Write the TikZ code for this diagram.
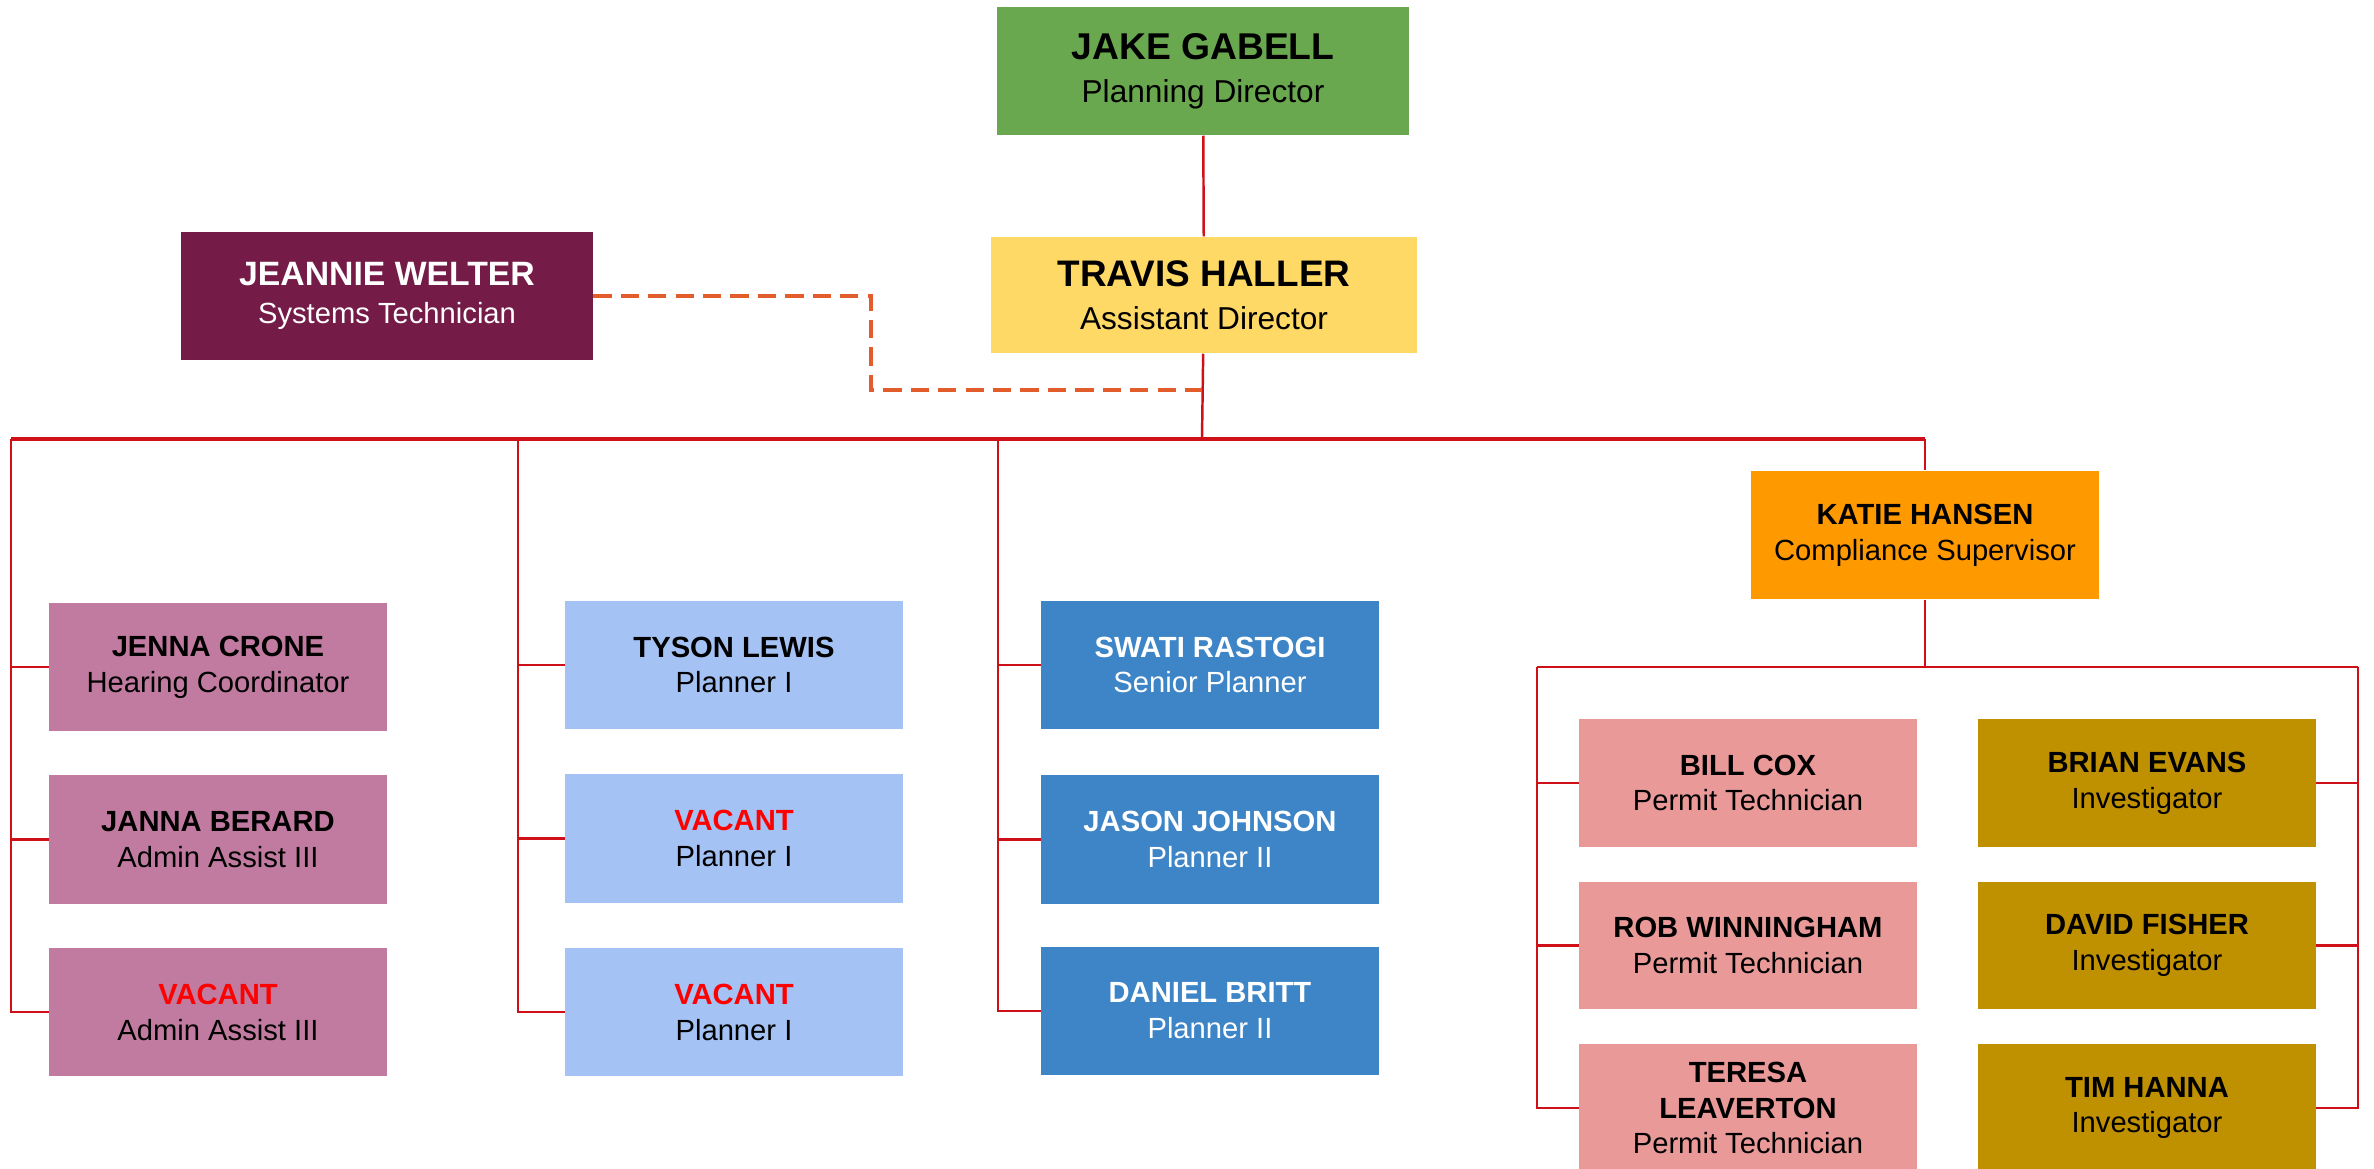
\documentclass[tikz,border=0pt]{standalone}
\usepackage{fontspec}
\setmainfont{Liberation Sans}
\usepackage{xcolor}
\usetikzlibrary{positioning}
\definecolor{dirgreen}{RGB}{106,168,79}
\definecolor{asstyellow}{RGB}{255,217,102}
\definecolor{sysmaroon}{RGB}{116,27,71}
\definecolor{adminpink}{RGB}{194,123,160}
\definecolor{plannerblue}{RGB}{164,194,244}
\definecolor{seniorblue}{RGB}{61,133,198}
\definecolor{complorange}{RGB}{255,153,0}
\definecolor{permitpink}{RGB}{234,153,153}
\definecolor{investgold}{RGB}{191,144,0}
\definecolor{wirered}{RGB}{208,16,24}
\definecolor{linkorange}{RGB}{226,92,44}
\tikzset{
  card/.style={rectangle, inner sep=0pt, align=center, text centered,
    minimum width=33.7mm, minimum height=12.8mm, font=\fontsize{8.3}{10.2}\selectfont},
  topcard/.style={card, minimum width=41.2mm, font=\fontsize{9}{12.2}\selectfont},
  admin/.style={card, fill=adminpink},
  plan/.style={card, fill=plannerblue},
  senior/.style={card, fill=seniorblue, text=white},
  permit/.style={card, fill=permitpink, minimum height=12.7mm},
  invest/.style={card, fill=investgold, minimum height=12.7mm},
  wire/.style={draw=wirered, line width=0.7pt},
  bus/.style={draw=wirered, line width=1pt},
  link/.style={draw=linkorange, line width=1.1pt, dash pattern=on 5.2pt off 2.6pt}
}

\begin{document}
\begin{tikzpicture}[x=0.01cm, y=-0.01cm]
  \useasboundingbox (0,0) rectangle (2374,1169);

  % directors
  \node[topcard, fill=dirgreen] (jake) at (1203,71)
    {{\fontsize{10.6}{12.2}\selectfont\bfseries JAKE GABELL}\\Planning Director};
  \node[topcard, fill=asstyellow, minimum width=42.6mm, minimum height=11.6mm] (travis) at (1204,295)
    {{\fontsize{10.5}{12.2}\selectfont\bfseries TRAVIS HALLER}\\Assistant Director};
  \node[card, fill=sysmaroon, text=white, minimum width=41.1mm, font=\fontsize{8.3}{10.9}\selectfont] (jeannie) at (387,296)
    {{\fontsize{9.6}{10.9}\selectfont\bfseries JEANNIE WELTER}\\Systems Technician};
  \node[card, fill=complorange, minimum width=34.8mm] (katie) at (1925,535)
    {\textbf{KATIE HANSEN}\\Compliance Supervisor};

  % admin column
  \node[admin] (jenna) at (218,667) {\textbf{JENNA CRONE}\\Hearing Coordinator};
  \node[admin, below=4.3mm of jenna] (janna) {\textbf{JANNA BERARD}\\Admin Assist III};
  \node[admin, below=4.3mm of janna] (vacadmin) {\textcolor{red}{\textbf{VACANT}}\\Admin Assist III};

  % planner column
  \node[plan] (tyson) at (734,665) {\textbf{TYSON LEWIS}\\Planner I};
  \node[plan, below=4.4mm of tyson] (vacplan1) {\textcolor{red}{\textbf{VACANT}}\\Planner I};
  \node[plan, below=4.4mm of vacplan1] (vacplan2) {\textcolor{red}{\textbf{VACANT}}\\Planner I};

  % senior column
  \node[senior] (swati) at (1210,665) {\textbf{SWATI RASTOGI}\\Senior Planner};
  \node[senior, below=4.5mm of swati] (jason) {\textbf{JASON JOHNSON}\\Planner II};
  \node[senior, below=4.2mm of jason] (daniel) {\textbf{DANIEL BRITT}\\Planner II};

  % compliance
  \node[permit] (bill) at (1748,783) {\textbf{BILL COX}\\Permit Technician};
  \node[permit, below=3.4mm of bill] (rob) {\textbf{ROB WINNINGHAM}\\Permit Technician};
  \node[permit, below=3.4mm of rob] (teresa) {\textbf{TERESA}\\\textbf{LEAVERTON}\\Permit Technician};
  \node[invest] (brian) at (2147,783) {\textbf{BRIAN EVANS}\\Investigator};
  \node[invest, below=3.4mm of brian] (david) {\textbf{DAVID FISHER}\\Investigator};
  \node[invest, below=3.4mm of david] (tim) {\textbf{TIM HANNA}\\Investigator};

  % rails
  \coordinate (bus) at (1202,439);
  \coordinate (adminrail) at (11,439);
  \coordinate (planrail) at (518,439);
  \coordinate (seniorrail) at (998,439);
  \coordinate (katierail) at (1925,439);
  \coordinate (cbus) at (1925,667);
  \coordinate (permitrail) at (1537,667);
  \coordinate (investrail) at (2358,667);
  \coordinate (dashturn) at (871,390);
  \coordinate (dashend) at (1202,390);

  \draw[wire] (jake) -- (travis);
  \draw[wire] (travis) -- (bus);
  \draw[bus] (adminrail) -- (katierail);
  \draw[wire] (katierail) -- (katie);
  \draw[link] (jeannie.east) -| (dashturn) -- (dashend);

  \draw[wire] (adminrail) |- (jenna.west);
  \draw[wire] (adminrail) |- (janna.west);
  \draw[wire] (adminrail) |- (vacadmin.west);
  \draw[wire] (planrail) |- (tyson.west);
  \draw[wire] (planrail) |- (vacplan1.west);
  \draw[wire] (planrail) |- (vacplan2.west);
  \draw[wire] (seniorrail) |- (swati.west);
  \draw[wire] (seniorrail) |- (jason.west);
  \draw[wire] (seniorrail) |- (daniel.west);

  \draw[wire] (katie) -- (cbus);
  \draw[wire] (permitrail) -- (investrail);
  \draw[wire] (permitrail) |- (bill.west);
  \draw[wire] (permitrail) |- (rob.west);
  \draw[wire] (permitrail) |- (teresa.west);
  \draw[wire] (investrail) |- (brian.east);
  \draw[wire] (investrail) |- (david.east);
  \draw[wire] (investrail) |- (tim.east);
\end{tikzpicture}
\end{document}
